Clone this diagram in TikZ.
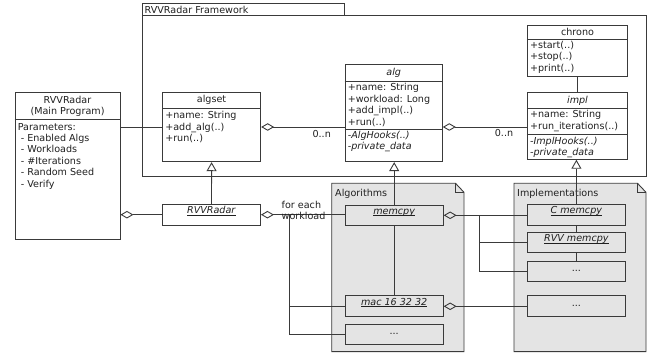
\documentclass[tikz,border=0pt]{standalone}
\usepackage{fontspec}
\setmainfont{DejaVu Sans}
\usepackage{tikz}
\usetikzlibrary{arrows.meta}
\usepackage{xcolor}

\definecolor{umlline}{HTML}{3A3A3A}
\definecolor{pkgfill}{HTML}{E4E4E4}
\definecolor{umltext}{HTML}{202020}

% object names: italic, underlined
\newcommand{\objname}[1]{\underline{\smash{\textit{#1}}}}

\begin{document}
\begin{tikzpicture}[x=1pt, y=-1pt,
    every node/.style={font=\fontsize{9.6}{11.4}\selectfont, text=umltext},
    umlbox/.style={draw=umlline, line width=0.9pt, fill=white, inner sep=0pt},
    objbox/.style={umlbox, minimum width=98pt, minimum height=20pt},
    pkg/.style={draw=umlline, line width=0.9pt, fill=pkgfill},
    sep/.style={draw=umlline, line width=0.9pt},
    conn/.style={draw=umlline, line width=0.9pt},
    agg/.style={conn, {Diamond[open, length=13pt, width=7.5pt]}-},
    inh/.style={conn, -{Triangle[open, length=9pt, width=10pt]}},
    members/.style={anchor=north west, align=left, inner sep=0pt},
  ]
    \useasboundingbox (0,0) rectangle (654,355);

    % Framework package
    \draw[pkg, fill=white] (142,3) rectangle (344,15);
    \draw[pkg, fill=white] (142,15) rectangle (646,176);
    \node[anchor=west, inner sep=0pt] (fwlabel) at (144.5,9.5) {RVVRadar Framework};

    % Algorithms and Implementations packages
    \draw[pkg] (331.7,183.3) -- (455.5,183.3) -- (464,192.3) -- (464,351.7) -- (331.7,351.7) -- cycle;
    \draw[sep] (455.5,183.3) -- (455.5,192.3) -- (464,192.3);
    \node[anchor=west, inner sep=0pt] (algpkg) at (335,193.5) {Algorithms};

    \draw[pkg] (514,183.3) -- (637.5,183.3) -- (646,192.3) -- (646,351.7) -- (514,351.7) -- cycle;
    \draw[sep] (637.5,183.3) -- (637.5,192.3) -- (646,192.3);
    \node[anchor=west, inner sep=0pt] (implpkg) at (517,193.5) {Implementations};

    % Main program
    \node[umlbox, minimum width=105pt, minimum height=146.7pt] (main) at (67.5,165.7) {};
    \draw[sep] ([yshift=-27.7pt]main.north west) -- ([yshift=-27.7pt]main.north east);
    \node[align=center, anchor=north, inner sep=0pt] at ([yshift=-4pt]main.north) {RVVRadar\\(Main Program)};
    \node[members] at ([shift={(3pt,-31pt)}]main.north west)
      {Parameters:\\\ - Enabled Algs\\\ - Workloads\\\ - \#Iterations\\\ - Random Seed\\\ - Verify};

    % algset
    \node[umlbox, minimum width=98.2pt, minimum height=69.4pt] (algset) at (211.6,127) {};
    \draw[sep] ([yshift=-17pt]algset.north west) -- ([yshift=-17pt]algset.north east);
    \node[anchor=center, inner sep=0pt] at ([yshift=-8.5pt]algset.north) {algset};
    \node[members] at ([shift={(3pt,-19.5pt)}]algset.north west)
      {+name: String\\+add\_alg(..)\\+run(..)};

    % alg
    \node[umlbox, minimum width=97.3pt, minimum height=97.4pt] (alg) at (393.7,113) {};
    \draw[sep] ([yshift=-18pt]alg.north west) -- ([yshift=-18pt]alg.north east);
    \draw[sep] ([yshift=-65.4pt]alg.north west) -- ([yshift=-65.4pt]alg.north east);
    \node[anchor=center, inner sep=0pt] at ([yshift=-9pt]alg.north) {\textit{alg}};
    \node[members] at ([shift={(3pt,-19.5pt)}]alg.north west)
      {+name: String\\+workload: Long\\+add\_impl(..)\\+run(..)};
    \node[members] at ([shift={(3pt,-67pt)}]alg.north west)
      {\textit{-AlgHooks(..)}\\\textit{-private\_data}};

    % chrono
    \node[umlbox, minimum width=100.4pt, minimum height=51.7pt] (chrono) at (577.5,50.9) {};
    \draw[sep] ([yshift=-15pt]chrono.north west) -- ([yshift=-15pt]chrono.north east);
    \node[anchor=center, inner sep=0pt] at ([yshift=-7.5pt]chrono.north) {chrono};
    \node[members] at ([shift={(3pt,-16.5pt)}]chrono.north west)
      {+start(..)\\+stop(..)\\+print(..)};

    % impl
    \node[umlbox, minimum width=100.4pt, minimum height=66.6pt] (impl) at (577.5,126) {};
    \draw[sep] ([yshift=-16.3pt]impl.north west) -- ([yshift=-16.3pt]impl.north east);
    \draw[sep] ([yshift=-42.6pt]impl.north west) -- ([yshift=-42.6pt]impl.north east);
    \node[anchor=center, inner sep=0pt] at ([yshift=-8.2pt]impl.north) {\textit{impl}};
    \node[members] at ([shift={(3pt,-18pt)}]impl.north west)
      {+name: String\\+run\_iterations(..)};
    \node[members] at ([shift={(3pt,-44.5pt)}]impl.north west)
      {\textit{-ImplHooks(..)}\\\textit{-private\_data}};

    % Objects
    \node[objbox, minimum height=20.7pt] (radar) at (211.5,214.7) {\objname{RVVRadar}};
    \node[objbox, fill=pkgfill] (memcpy) at (394.2,215.3) {\objname{memcpy}};
    \node[objbox, fill=pkgfill, minimum height=20.7pt] (mac) at (394.2,306.3) {\objname{mac 16 32 32}};
    \node[objbox, fill=pkgfill] (algmore) at (394.2,334) {...};
    \node[objbox, fill=pkgfill, minimum height=20.7pt] (cmemcpy) at (576.4,214.7) {\objname{C memcpy}};
    \node[objbox, fill=pkgfill] (rvvmemcpy) at (576.4,242.7) {\objname{RVV memcpy}};
    \node[objbox, fill=pkgfill] (memcpymore) at (576.4,271) {...};
    \node[objbox, fill=pkgfill, minimum height=20.7pt] (macmore) at (576.4,306.3) {...};

    % Associations inside the framework
    \draw[conn] (main.east |- algset.west) -- (algset.west);
    \draw[agg] (algset.east) -- (algset.east -| alg.west);
    \node (algsetmult) at (321.7,134) {0..n};
    \draw[agg] (alg.east |- algset.east) -- (impl.west |- algset.east);
    \node (algmult) at (504,133.5) {0..n};
    \draw[conn] (chrono.south) -- (impl.north);

    % Inheritance
    \draw[inh] (radar.north) -- (algset.south);
    \draw[inh] (memcpy.north) -- (memcpy.north |- alg.south);
    \draw[inh] (cmemcpy.north) -- (cmemcpy.north |- impl.south);

    % Program -> RVVRadar object -> algorithms
    \draw[agg] (main.east |- radar.west) -- (radar.west);
    \draw[agg] (radar.east) -- (radar.east -| memcpy.west);
    \node[anchor=west, align=left, inner sep=0pt] (foreach) at (281.5,210.5) {for each\\workload};
    \coordinate (wl) at (289.3,214.7);
    \draw[conn] (wl) |- (mac.west);
    \draw[conn] (wl) |- (algmore.west);
    \draw[conn] (memcpy.south) -- (mac.north);

    % Algorithms -> implementations
    \draw[agg] (memcpy.east) -- (memcpy.east -| cmemcpy.west);
    \coordinate (im) at (479,215.3);
    \draw[conn] (im) |- (rvvmemcpy.west);
    \draw[conn] (im) |- (memcpymore.west);
    \draw[conn] (cmemcpy.south) -- (rvvmemcpy.north);
    \draw[conn] (rvvmemcpy.south) -- (memcpymore.north);
    \draw[agg] (mac.east) -- (macmore.west);
\end{tikzpicture}
\end{document}
